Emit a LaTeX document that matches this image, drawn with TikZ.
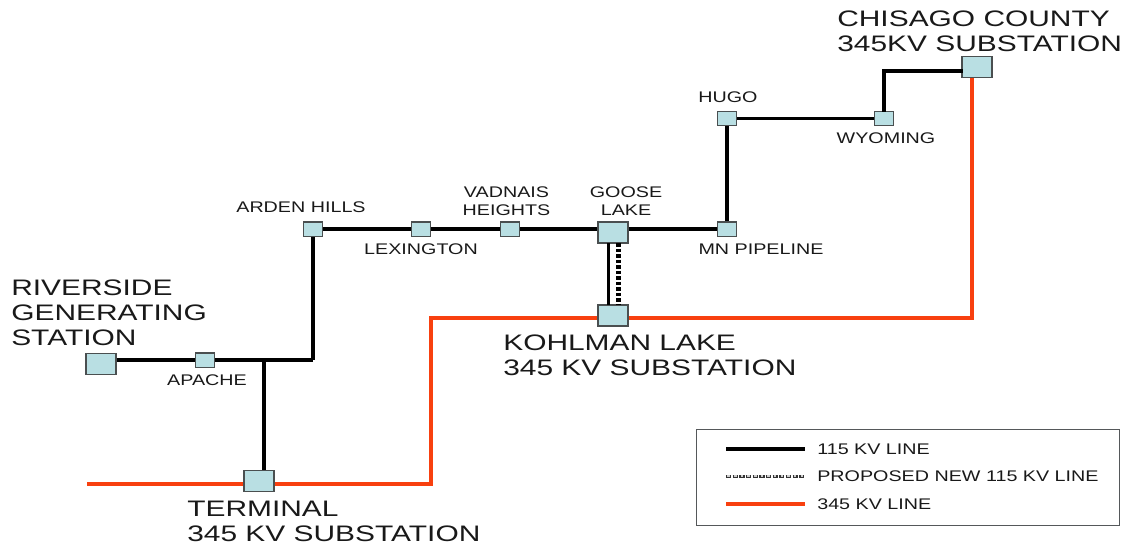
\documentclass[tikz,border=0pt]{standalone}
\usepackage{fontspec}
\setmainfont{Liberation Sans}
\newfontfamily\bigwide[FakeStretch=1.333]{Liberation Sans}
\newfontfamily\smallwide[FakeStretch=1.28]{Liberation Sans}
\definecolor{subfill}{HTML}{B9DFE3}
\definecolor{subedge}{HTML}{4A4F50}
\definecolor{hvred}{HTML}{F8400F}
\definecolor{boxedge}{HTML}{55585A}
\tikzset{
  bigsub/.style={draw=subedge,fill=subfill,line width=0.8pt,minimum width=20pt,minimum height=14pt,inner sep=0pt},
  smallsub/.style={draw=subedge,fill=subfill,line width=0.8pt,minimum width=13pt,minimum height=9.5pt,inner sep=0pt},
  lowline/.style={black,line width=2.1pt},
  lowriser/.style={black,line width=2.5pt},
  highline/.style={hvred,line width=2.1pt},
  biglabel/.style={align=left,anchor=north west,inner sep=0pt,font=\bigwide\fontsize{15}{16.5}\selectfont,text=black!90},
  smalllabel/.style={align=center,inner sep=0pt,font=\smallwide\fontsize{10.3}{12}\selectfont,text=black!90}
}
\begin{document}
\begin{tikzpicture}[x=0.0235cm,y=-0.0235cm]
  \useasboundingbox (0,0) rectangle (1125,544);
  % stations
  \node[bigsub] (riverside) at (101,364) {};
  \node[smallsub] (apache) at (205,360) {};
  \node[bigsub] (terminal) at (259,481) {};
  \node[smallsub] (arden) at (313,229) {};
  \node[smallsub] (lexington) at (421,229) {};
  \node[smallsub] (vadnais) at (510,229) {};
  \node[bigsub] (goose) at (613,232.5) {};
  \node[bigsub] (kohlman) at (613,315.5) {};
  \node[smallsub] (pipeline) at (727,229) {};
  \node[smallsub] (hugo) at (727,118.5) {};
  \node[smallsub] (wyoming) at (884,118.5) {};
  \node[bigsub] (chisago) at (977,67) {};
  % 115 kv
  \coordinate (bend) at (313,360);
  \coordinate (tee) at (264,360);
  \coordinate (topbend) at (884,71);
  \draw[lowline] (riverside.east |- apache) -- (apache.west);
  \draw[lowline] (apache.east) -- (bend);
  \draw[lowriser] (bend) -- (arden.south);
  \draw[lowriser] (tee) -- (tee |- terminal.north);
  \draw[lowline] (arden.east) -- (lexington.west);
  \draw[lowline] (lexington.east) -- (vadnais.west);
  \draw[lowline] (vadnais.east) -- (goose.west |- vadnais);
  \draw[lowline] (goose.east |- pipeline) -- (pipeline.west);
  \draw[lowriser] (pipeline.north) -- (hugo.south);
  \draw[lowline] (hugo.east) -- (wyoming.west);
  \draw[lowline,line cap=rect] (wyoming.north) -- (topbend) -- (topbend -| chisago.west);
  \coordinate (solidtop) at (608.5,243);
  \coordinate (solidlow) at (608.5,305);
  \coordinate (dashtop) at (618.3,243);
  \coordinate (dashlow) at (618.3,305);
  \draw[lowriser] (solidtop) -- (solidlow);
  \draw[black,line width=3.2pt,dash pattern=on 2.4pt off 1.3pt] (dashtop) -- (dashlow);
  % 345 kv
  \coordinate (redstart) at (87,484);
  \coordinate (redup) at (431,484);
  \coordinate (redmid) at (431,318);
  \coordinate (redcorner) at (972,318);
  \draw[highline] (redstart) -- (terminal.west |- redstart);
  \draw[highline] (terminal.east |- redstart) -- (redup) -- (redmid) -- (kohlman.west |- redmid);
  \draw[highline] (kohlman.east |- redcorner) -- (redcorner) -- (redcorner |- chisago.south);
  % labels
  \node[biglabel] (chisagotxt) at (837,11) {CHISAGO COUNTY\\345KV SUBSTATION};
  \node[biglabel] (riversidetxt) at (11,280) {RIVERSIDE\\GENERATING\\STATION};
  \node[biglabel] (kohlmantxt) at (503,335) {KOHLMAN LAKE\\345 KV SUBSTATION};
  \node[biglabel] (terminaltxt) at (187,501) {TERMINAL\\345 KV SUBSTATION};
  \node[smalllabel] (hugotxt) at (728,97) {HUGO};
  \node[smalllabel] (wyomingtxt) at (886,138) {WYOMING};
  \node[smalllabel] (ardentxt) at (301,207) {ARDEN HILLS};
  \node[smalllabel] (lexingtontxt) at (421,249) {LEXINGTON};
  \node[smalllabel] (vadnaistxt) at (506.5,201) {VADNAIS\\HEIGHTS};
  \node[smalllabel] (goosetxt) at (626,201) {GOOSE\\LAKE};
  \node[smalllabel] (pipelinetxt) at (761,249) {MN PIPELINE};
  \node[smalllabel] (apachetxt) at (207,380) {APACHE};
  % legend
  \node[draw=boxedge,line width=0.8pt,minimum width=283.3pt,minimum height=64.2pt,inner sep=0pt] (legendbox) at (908,477.5) {};
  \foreach \ky/\kname/\ktext in {449/one/115 KV LINE,476/two/PROPOSED NEW 115 KV LINE,504/three/345 KV LINE}{
    \coordinate (\kname a) at (726,\ky);
    \coordinate (\kname b) at (805,\ky);
    \node[smalllabel,anchor=west] (\kname txt) at (817,\ky) {\ktext};
  }
  \draw[lowline] (onea) -- (oneb);
  \draw[black!80,line width=2pt,dash pattern=on 3.5pt off 0.95pt] (twoa) -- (twob);
  \draw[white!80!black,line width=0.8pt,dash pattern=on 1.7pt off 2.75pt,dash phase=3.55pt] (twoa) -- (twob);
  \draw[highline] (threea) -- (threeb);
\end{tikzpicture}
\end{document}
